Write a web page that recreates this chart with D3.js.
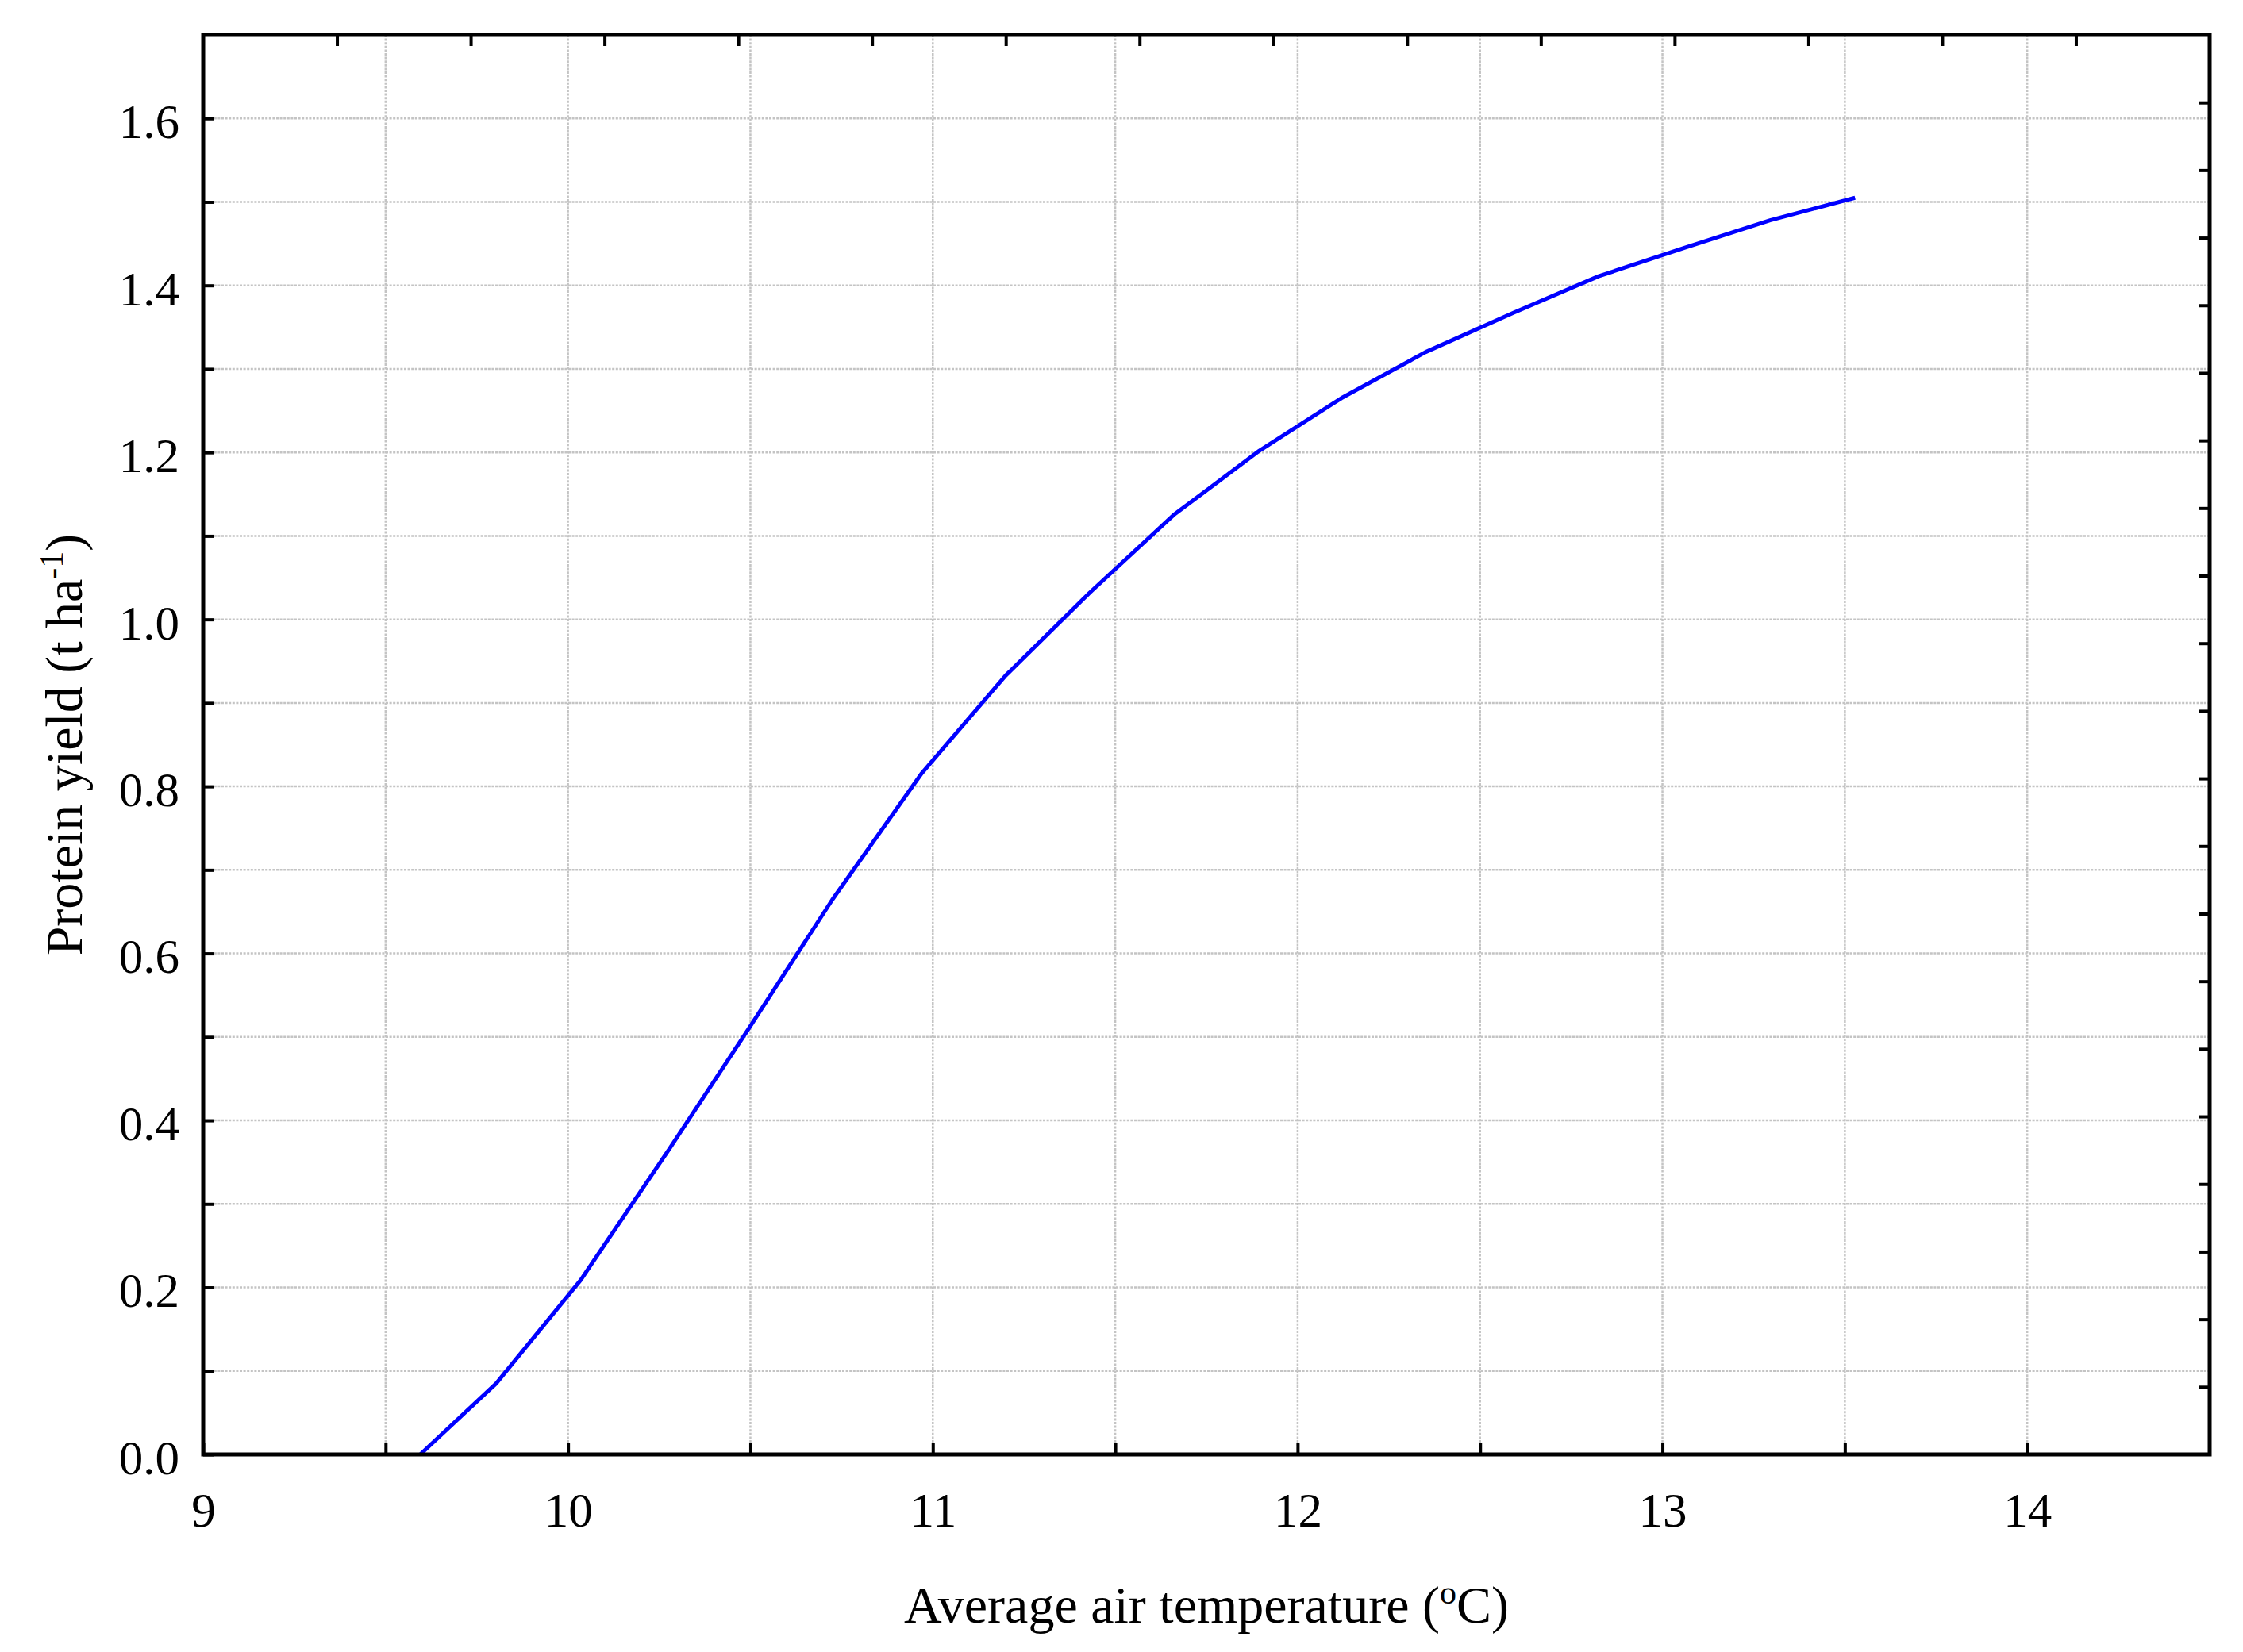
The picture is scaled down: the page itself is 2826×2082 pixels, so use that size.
<!DOCTYPE html>
<html>
<head>
<meta charset="utf-8">
<script src="https://cdn.jsdelivr.net/npm/d3@7"></script>
<style>
  html, body { margin: 0; padding: 0; background: #fff; }
  svg { display: block; }
</style>
</head>
<body>
<svg id="chart" width="2826" height="2082"></svg>
<script>
// ---- data ----
const temperature = [9.595, 9.803, 10.035, 10.278, 10.50, 10.724, 10.97, 11.20, 11.43, 11.66,
                     11.895, 12.12, 12.35, 12.59, 12.825, 13.06, 13.295, 13.528];
const proteinYield = [0.000, 0.085, 0.209, 0.366, 0.513, 0.664, 0.816, 0.933, 1.032, 1.125,
                      1.202, 1.265, 1.320, 1.367, 1.411, 1.445, 1.478, 1.505];

const xTicks = [9, 9.5, 10, 10.5, 11, 11.5, 12, 12.5, 13, 13.5, 14];
const xLabels = [9, 10, 11, 12, 13, 14];
const yTicks = [0, 0.1, 0.2, 0.3, 0.4, 0.5, 0.6, 0.7, 0.8, 0.9, 1.0, 1.1, 1.2, 1.3, 1.4, 1.5, 1.6];
const yLabels = [0, 0.2, 0.4, 0.6, 0.8, 1.0, 1.2, 1.4, 1.6];
// secondary (unlabelled) scales used for the opposite-side tick marks
const topTicks = [1, 2, 3, 4, 5, 6, 7, 8, 9, 10, 11, 12, 13, 14];
const rightTicks = [1, 2, 3, 4, 5, 6, 7, 8, 9, 10, 11, 12, 13, 14, 15, 16, 17, 18, 19, 20];

const xTitle = "Average air temperature (";
const yTitle = "Protein yield (t ha";

// ---- layout ----
const margin = { left: 256, right: 2826 - 2784, top: 44, bottom: 2082 - 1833 };
const W = 2826 - margin.left - margin.right;
const H = 2082 - margin.top - margin.bottom;
const FONT = "'Liberation Serif', 'Times New Roman', serif";

const svg = d3.select("#chart");
const g = svg.append("g").attr("transform", `translate(${margin.left},${margin.top})`);

const x = d3.scaleLinear().domain([9, 14.5]).range([0, W]);
const y = d3.scaleLinear().domain([0, 1.7]).range([H, 0]);
const xTop = d3.scaleLinear().domain([0, 15]).range([0, W]);
const yRight = d3.scaleLinear().domain([0, 21]).range([H, 0]);

// grid
const grid = g.append("g").attr("stroke", "#c4c4c4").attr("stroke-width", 2.5)
  .attr("stroke-dasharray", "3,1.6");
grid.selectAll("line.v").data(xTicks.filter(d => d > 9)).join("line").attr("class", "v")
  .attr("x1", d => x(d)).attr("x2", d => x(d)).attr("y1", 0).attr("y2", H);
grid.selectAll("line.h").data(yTicks.filter(d => d > 0)).join("line").attr("class", "h")
  .attr("x1", 0).attr("x2", W).attr("y1", d => y(d)).attr("y2", d => y(d));

// curve
const line = d3.line().x((d, i) => x(temperature[i])).y((d, i) => y(proteinYield[i]));
g.append("path").datum(proteinYield).attr("d", line)
  .attr("fill", "none").attr("stroke", "#0000ff").attr("stroke-width", 5)
  .attr("stroke-linejoin", "round");

// axes
const TL = 14;
const fmtX = d => xLabels.includes(d) ? String(d) : "";
const fmtY = d => yLabels.some(v => Math.abs(v - d) < 1e-9) ? d3.format(".1f")(d) : "";

const axB = g.append("g").attr("transform", `translate(0,${H})`)
  .call(d3.axisBottom(x).tickValues(xTicks).tickSize(-TL).tickPadding(48).tickFormat(fmtX));
const axL = g.append("g")
  .call(d3.axisLeft(y).tickValues(yTicks).tickSize(-TL).tickPadding(30).tickFormat(fmtY));
const axT = g.append("g")
  .call(d3.axisTop(xTop).tickValues(topTicks).tickSize(-TL).tickFormat(""));
const axR = g.append("g").attr("transform", `translate(${W},0)`)
  .call(d3.axisRight(yRight).tickValues(rightTicks).tickSize(-TL).tickFormat(""));

[axB, axL, axT, axR].forEach(a => {
  a.select(".domain").remove();
  a.selectAll(".tick line").attr("stroke", "#000").attr("stroke-width", 4);
  a.selectAll(".tick text").attr("fill", "#000").style("font-family", FONT).style("font-size", "61px");
});
axL.selectAll(".tick text").attr("dy", "0.40em");

// frame
g.append("rect").attr("x", 0).attr("y", 0).attr("width", W).attr("height", H)
  .attr("fill", "none").attr("stroke", "#000").attr("stroke-width", 5);

// titles
const xt = svg.append("text")
  .attr("x", margin.left + W / 2).attr("y", 2045)
  .attr("text-anchor", "middle")
  .style("font-family", FONT).style("font-size", "66px").attr("fill", "#000");
xt.append("tspan").text(xTitle);
xt.append("tspan").attr("dy", -24).style("font-size", "42px").text("o");
xt.append("tspan").attr("dy", 24).text("C)");

const yt = svg.append("text")
  .attr("transform", `translate(103,${margin.top + H / 2}) rotate(-90)`)
  .attr("text-anchor", "middle")
  .style("font-family", FONT).style("font-size", "66px").attr("fill", "#000");
yt.append("tspan").text(yTitle);
yt.append("tspan").attr("dy", -24).style("font-size", "42px").text("-1");
yt.append("tspan").attr("dy", 24).text(")");
</script>
</body>
</html>
